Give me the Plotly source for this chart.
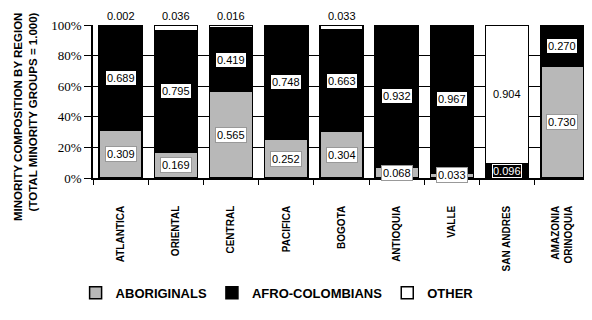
import plotly.graph_objects as go

regions = ["ATLANTICA", "ORIENTAL", "CENTRAL", "PACIFICA", "BOGOTA",
           "ANTIOQUIA", "VALLE", "SAN ANDRES", "AMAZONIA<br>ORINOQUIA"]
aboriginals = [0.309, 0.169, 0.565, 0.252, 0.304, 0.068, 0.033, 0.0, 0.730]
afro = [0.689, 0.795, 0.419, 0.748, 0.663, 0.932, 0.967, 0.096, 0.270]
other = [0.002, 0.036, 0.016, 0.0, 0.033, 0.0, 0.0, 0.904, 0.0]
y_ticks = [0, 0.2, 0.4, 0.6, 0.8, 1.0]
y_tick_text = ["0%", "20%", "40%", "60%", "80%", "100%"]

sans = "Liberation Sans"
serif = "Liberation Serif"

fig = go.Figure()
fig.add_bar(x=regions, y=aboriginals, name="ABORIGINALS",
            marker=dict(color="#b8b8b8", line=dict(color="black", width=1.5)))
fig.add_bar(x=regions, y=afro, name="AFRO-COLOMBIANS",
            marker=dict(color="black", line=dict(color="black", width=1.5)))
fig.add_bar(x=regions, y=other, name="OTHER",
            marker=dict(color="white", line=dict(color="black", width=1.5)))

ann = []
for i, r in enumerate(regions):
    a, b, o = aboriginals[i], afro[i], other[i]
    if a > 0:
        ann.append(dict(x=r, y=a / 2, text=f"{a:.3f}", showarrow=False,
                        font=dict(family=sans, size=11, color="black"),
                        bgcolor="white", bordercolor="#999999", borderwidth=1, borderpad=1))
    if b > 0:
        if b < 0.2 and o > 0.5:
            ann.append(dict(x=r, y=a + b / 2, text=f"{b:.3f}", showarrow=False,
                            font=dict(family=sans, size=11, color="white"),
                            bgcolor="black", bordercolor="white", borderwidth=1, borderpad=0))
        else:
            ann.append(dict(x=r, y=a + b / 2, text=f"{b:.3f}", showarrow=False,
                            font=dict(family=sans, size=11, color="black"),
                            bgcolor="white", bordercolor="black", borderwidth=1, borderpad=1))
    if o > 0:
        if o > 0.5:
            ann.append(dict(x=r, y=a + b + o / 2, text=f"{o:.3f}", showarrow=False,
                            font=dict(family=sans, size=11, color="black")))
        else:
            ann.append(dict(x=r, y=1.0, yanchor="bottom", yshift=1, text=f"{o:.3f}",
                            showarrow=False, font=dict(family=sans, size=11, color="black")))

ann.append(dict(xref="paper", yref="paper", x=-0.137, y=1.10, xanchor="center", yanchor="top",
                text="MINORITY COMPOSITION BY REGION<br>(TOTAL MINORITY GROUPS = 1.000)",
                textangle=-90, align="right", showarrow=False,
                font=dict(family=sans, size=11.5, color="black", weight="bold")))

# page body has an 8px default margin; the figure is sized to fill the rest
fig.update_layout(
    barmode="stack",
    bargap=0.22,
    width=584, height=312,
    margin=dict(l=85, r=2, t=17, b=142),
    plot_bgcolor="white", paper_bgcolor="white",
    showlegend=True,
    legend=dict(orientation="h", x=-0.035, xanchor="left", y=-0.75, yanchor="middle",
                font=dict(family=sans, size=13, color="black", weight="bold"),
                itemwidth=30, traceorder="normal"),
    annotations=ann,
)
fig.update_xaxes(
    type="category", range=[-0.5, 8.5],
    tickson="boundaries", ticks="outside", ticklen=5, tickcolor="black",
    showline=True, linecolor="black", linewidth=1.5,
    tickangle=-90, ticklabelstandoff=22,
    tickfont=dict(family=sans, size=10, color="black", weight="bold"),
    showgrid=False,
)
fig.update_yaxes(
    range=[0, 1], tickvals=y_ticks, ticktext=y_tick_text,
    ticks="outside", ticklen=7, tickcolor="black",
    showline=True, linecolor="black", linewidth=1.5,
    showgrid=True, gridcolor="black", gridwidth=1.2,
    tickfont=dict(family=serif, size=13, color="black"),
    zeroline=False,
)

fig.write_html("out.html")
